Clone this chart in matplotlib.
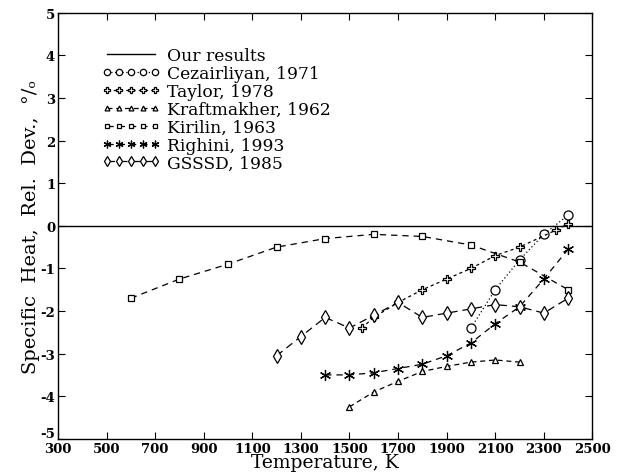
import matplotlib
matplotlib.use("Agg")
import matplotlib.pyplot as plt
from matplotlib.transforms import ScaledTranslation

plt.rcParams['font.family'] = ['DejaVu Serif']
plt.rcParams['axes.unicode_minus'] = False

# data
cez_T = [2000, 2100, 2200, 2300, 2400]
cez_d = [-2.4, -1.5, -0.8, -0.2, 0.25]

tay_T = [1550, 1600, 1700, 1800, 1900, 2000, 2100, 2200, 2350, 2400]
tay_d = [-2.4, -2.15, -1.8, -1.5, -1.25, -1.0, -0.7, -0.5, -0.1, 0.05]

kraft_T = [1500, 1600, 1700, 1800, 1900, 2000, 2100, 2200]
kraft_d = [-4.25, -3.9, -3.65, -3.42, -3.3, -3.2, -3.15, -3.2]

kir_T = [600, 800, 1000, 1200, 1400, 1600, 1800, 2000, 2200, 2400]
kir_d = [-1.7, -1.25, -0.9, -0.5, -0.3, -0.2, -0.25, -0.45, -0.85, -1.5]

rig_T = [1400, 1500, 1600, 1700, 1800, 1900, 2000, 2100, 2200, 2300, 2400]
rig_d = [-3.5, -3.5, -3.45, -3.35, -3.25, -3.05, -2.75, -2.3, -1.9, -1.25, -0.55]

gs_T = [1200, 1300, 1400, 1500, 1600, 1700, 1800, 1900, 2000, 2100, 2200, 2300, 2400]
gs_d = [-3.05, -2.6, -2.15, -2.4, -2.1, -1.8, -2.15, -2.05, -1.95, -1.85, -1.9, -2.05, -1.7]

x_ticks = [300, 500, 700, 900, 1100, 1300, 1500, 1700, 1900, 2100, 2300, 2500]
y_ticks = [-5, -4, -3, -2, -1, 0, 1, 2, 3, 4, 5]

fig = plt.figure(figsize=(6.2, 4.77), dpi=100)
ax = fig.add_axes([0.0935, 0.078, 0.862, 0.893])

ax.axhline(0, color='black', lw=1.0, label='Our results')
ms = dict(color='black', lw=0.9, mfc='white', mec='black', mew=0.9)
ax.plot(cez_T, cez_d, ls=(0, (1, 2)), marker='o', ms=6.5, label='Cezairliyan, 1971', **ms)
ax.plot(tay_T, tay_d, ls=(0, (2.5, 2.5)), marker='P', ms=6, label='Taylor, 1978', **ms)
ax.plot(kraft_T, kraft_d, ls=(0, (4, 3)), marker='^', ms=5, label='Kraftmakher, 1962', **ms)
ax.plot(kir_T, kir_d, ls=(0, (5, 4)), marker='s', ms=5, label='Kirilin, 1963', **ms)
ax.plot(rig_T, rig_d, ls=(0, (5, 4)), marker=(6, 2, 0), ms=8, label='Righini, 1993', **ms)
ax.plot(gs_T, gs_d, ls=(0, (6, 4)), marker='d', ms=7, label='GSSSD, 1985', **ms)

ax.set_xlim(300, 2500)
ax.set_ylim(-5, 5)
ax.set_xticks(x_ticks)
ax.set_yticks(y_ticks)
ax.tick_params(direction='in', top=True, right=True, length=5, width=0.8, labelsize=9.5, pad=2)
for t in ax.get_xticklabels() + ax.get_yticklabels():
    t.set_fontweight('bold')
# lift the -5 label a little so it does not sit on the 300 label
lowest = ax.get_yticklabels()[0]
lowest.set_transform(lowest.get_transform() + ScaledTranslation(0, 5 / 72, fig.dpi_scale_trans))
for s in ax.spines.values():
    s.set_linewidth(1.0)

ax.set_xlabel('Temperature, K', fontsize=13.5, labelpad=-1)
ax.set_ylabel('Specific  Heat,  Rel.  Dev.,  °/ₒ', fontsize=14, labelpad=0)

leg = ax.legend(loc='upper left', bbox_to_anchor=(0.07, 0.935), numpoints=5, frameon=False,
                fontsize=12.3, handlelength=3.4, handletextpad=0.4, labelspacing=0.05,
                borderaxespad=0, markerscale=0.7)

fig.savefig('out.png', dpi=100)
